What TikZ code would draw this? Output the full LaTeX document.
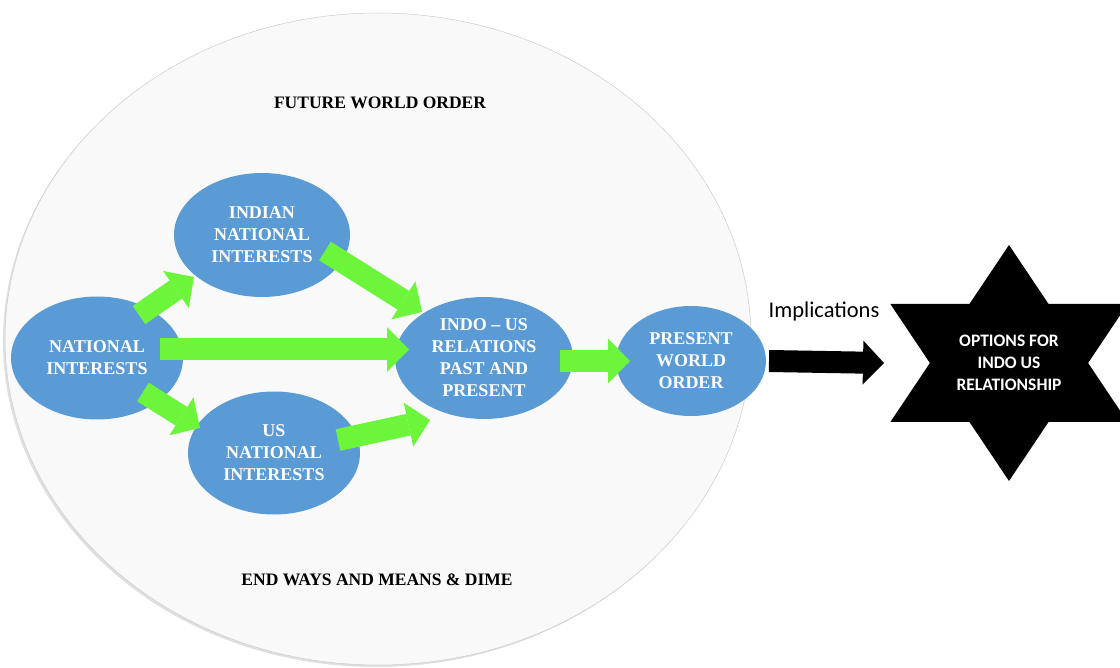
\documentclass[tikz,border=0pt]{standalone}
\usepackage{fontspec}
\setmainfont{Liberation Serif}
\newfontfamily\calibri{Carlito}
\usepackage{tikz}
\usetikzlibrary{arrows.meta,shapes.geometric}
\definecolor{nodeblue}{RGB}{91,155,213}
\definecolor{arrowgreen}{RGB}{108,245,58}
\definecolor{ovalgrey}{RGB}{249,249,249}

\begin{document}
\begin{tikzpicture}[x=1pt,y=-1pt,
	interest/.style={shape=ellipse,fill=nodeblue,text=white,align=center,inner sep=0pt,
		font=\bfseries\fontsize{18}{22}\selectfont},
	caption/.style={font=\bfseries\fontsize{17.5}{21}\selectfont},
	greenarrow/.style={color=arrowgreen,line width=22pt,-{Triangle[length=22pt,width=45pt,line width=0pt]}},
	blackarrow/.style={color=black,line width=22pt,-{Triangle[length=21pt,width=44pt,line width=0pt]}}]
	
	\useasboundingbox (0,0) rectangle (1120,668);
	
	% big oval
	\fill[gray!25] (376,341) ellipse [x radius=373, y radius=326];
	\filldraw[fill=ovalgrey,draw=gray!40,line width=0.5pt] (378,339) ellipse [x radius=373, y radius=326];
	
	\node[caption] (fwo) at (380,103) {FUTURE WORLD ORDER};
	\node[caption] (ewm) at (377,580) {END WAYS AND MEANS \& DIME};
	
	\node[interest,minimum width=172pt,minimum height=123pt] (ni)   at (97, 358)  {NATIONAL\\INTERESTS};
	\node[interest,minimum width=176pt,minimum height=124pt] (ini)  at (262, 235) {INDIAN\\NATIONAL\\INTERESTS};
	\node[interest,minimum width=172pt,minimum height=123pt] (usni) at (274, 453) {US\\NATIONAL\\INTERESTS};
	\node[interest,minimum width=178pt,minimum height=122pt] (ius)  at (484, 358) {INDO – US\\RELATIONS\\PAST AND\\PRESENT};
	\node[interest,minimum width=150pt,minimum height=110pt] (pwo)  at (691, 361) {PRESENT\\WORLD\\ORDER};
	
	% star
	\begin{scope}[shift={(1009,363)}]
		\fill[black] (90:137 and 118) -- (-30:137 and 118) -- (210:137 and 118) -- cycle;
		\fill[black] (-90:137 and 118) -- (30:137 and 118) -- (150:137 and 118) -- cycle;
	\end{scope}
	\node[text=white,align=center,font=\calibri\bfseries\fontsize{17.5}{21.7}\selectfont] (opt) at (1009,363) {OPTIONS FOR\\INDO US\\RELATIONSHIP};
	
	\node[font=\calibri\fontsize{22.5}{26}\selectfont] (impl) at (824,312) {Implications};
	
	\draw[greenarrow] ([shift={(42,-43)}]ni.center) -- ([shift={(-68,42)}]ini.center);
	\draw[greenarrow] ([shift={(63,-8.5)}]ni.center) -- ([shift={(-75,-8.5)}]ius.center);
	\draw[greenarrow] ([shift={(46,34)}]ni.center) -- ([shift={(-74,-25)}]usni.center);
	\draw[greenarrow] ([shift={(63,16)}]ini.center) -- ([shift={(-62,-46)}]ius.center);
	\draw[greenarrow] ([shift={(64,-13)}]usni.center) -- ([shift={(-54,62)}]ius.center);
	\draw[greenarrow] ([shift={(76,3)}]ius.center) -- ([shift={(-61,0)}]pwo.center);
	\draw[blackarrow] ([xshift=78pt]pwo.center) -- ([xshift=-125pt]opt.center);
\end{tikzpicture}
\end{document}
